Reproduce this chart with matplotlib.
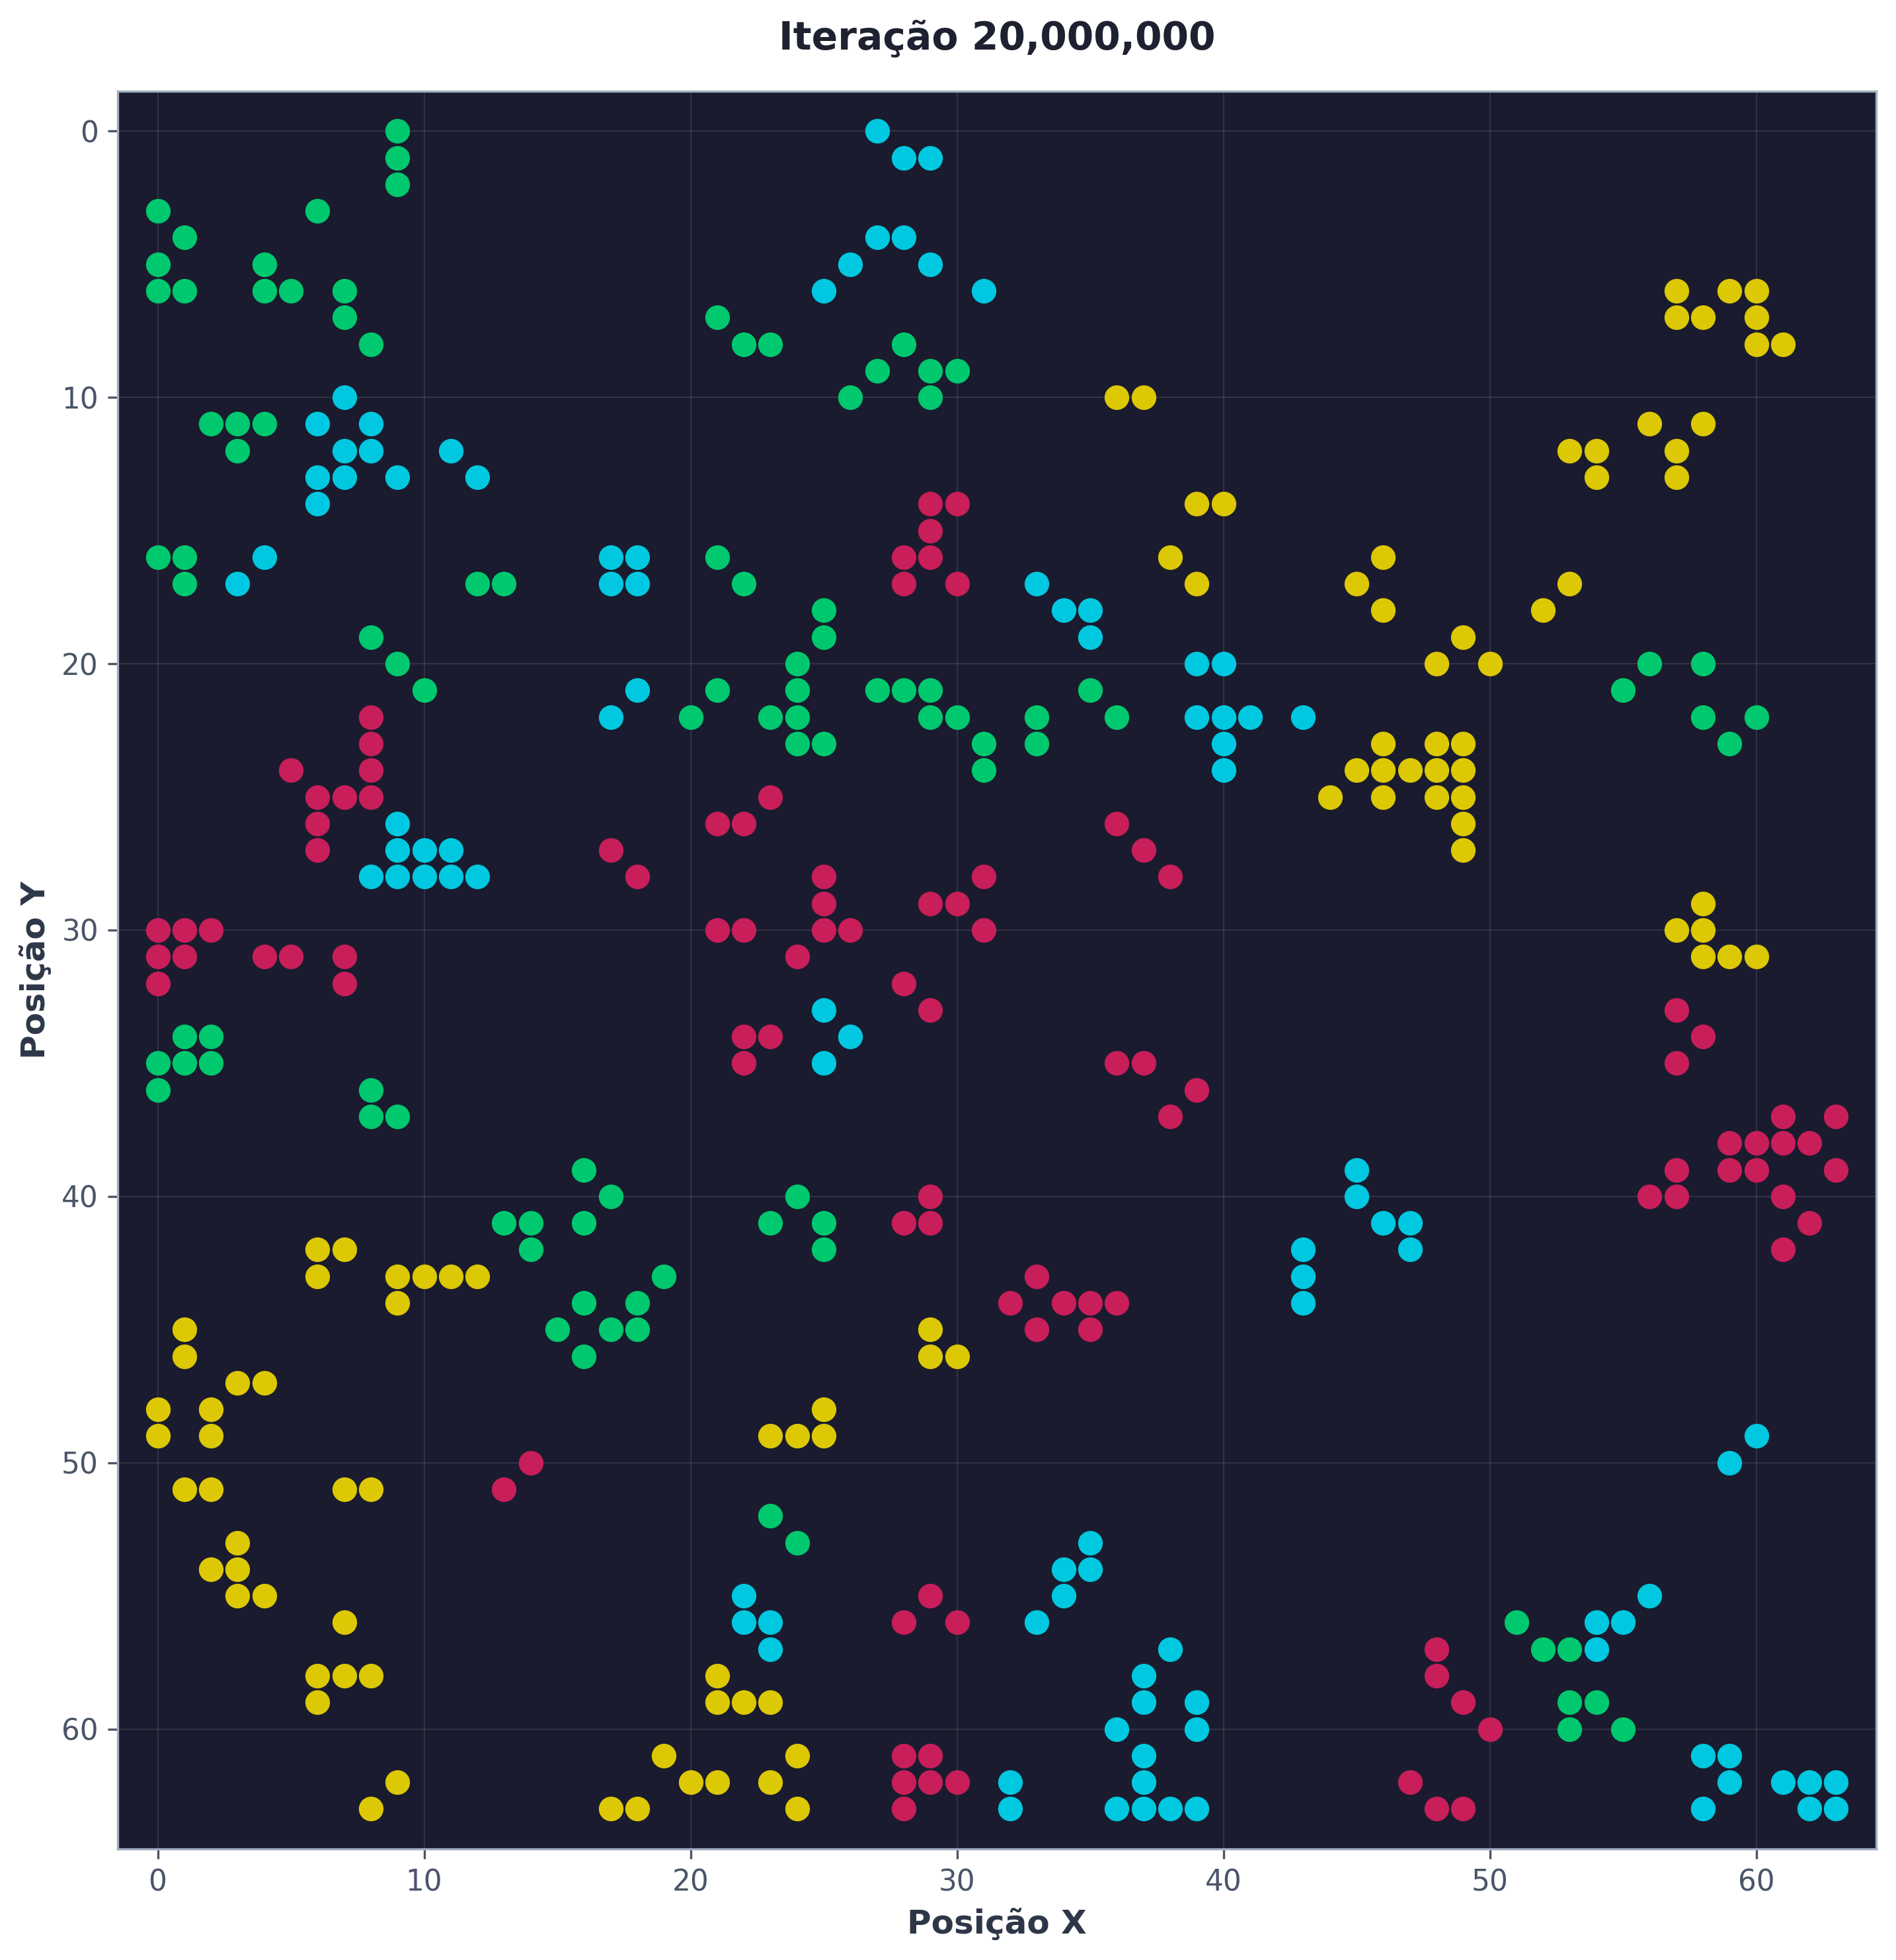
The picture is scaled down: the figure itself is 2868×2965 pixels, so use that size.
import matplotlib

matplotlib.use("Agg")

import matplotlib.pyplot as plt  # noqa: E402

# grid cells occupied by each agent type, (x, y)
green_cells = [
    (9, 0), (9, 1), (9, 2), (0, 3), (6, 3), (1, 4), (0, 5), (4, 5), (0, 6), (1, 6),
    (4, 6), (5, 6), (7, 6), (7, 7), (8, 8), (2, 11), (3, 11), (4, 11), (3, 12),
    (0, 16), (1, 16), (1, 17), (12, 17), (13, 17), (8, 19), (9, 20), (10, 21),
    (21, 7), (22, 8), (23, 8), (28, 8), (27, 9), (29, 9), (30, 9), (26, 10), (29, 10),
    (21, 16), (22, 17), (25, 18), (25, 19), (24, 20), (56, 20), (58, 20),
    (20, 22), (21, 21), (24, 21), (27, 21), (28, 21), (29, 21), (35, 21), (23, 22),
    (24, 22), (29, 22), (30, 22), (33, 22), (36, 22), (24, 23), (25, 23), (31, 23),
    (33, 23), (31, 24), (55, 21), (58, 22), (60, 22), (59, 23),
    (1, 34), (2, 34), (0, 35), (1, 35), (2, 35), (0, 36), (8, 36), (8, 37), (9, 37),
    (16, 39), (17, 40), (13, 41), (14, 41), (16, 41), (14, 42), (24, 40), (23, 41),
    (25, 41), (25, 42), (19, 43), (16, 44), (18, 44), (15, 45), (17, 45), (18, 45),
    (16, 46), (23, 52), (24, 53), (51, 56), (52, 57), (53, 57), (53, 59), (54, 59),
    (53, 60), (55, 60),
]
cyan_cells = [
    (27, 0), (28, 1), (29, 1), (27, 4), (28, 4), (26, 5), (29, 5), (25, 6), (31, 6),
    (7, 10), (6, 11), (8, 11), (7, 12), (8, 12), (11, 12), (6, 13), (7, 13), (9, 13),
    (12, 13), (6, 14), (4, 16), (3, 17), (17, 16), (18, 16), (17, 17), (18, 17),
    (18, 21), (17, 22), (33, 17), (34, 18), (35, 18), (35, 19), (39, 20), (40, 20),
    (39, 22), (40, 22), (41, 22), (40, 23), (40, 24), (43, 22),
    (9, 26), (9, 27), (10, 27), (11, 27), (8, 28), (9, 28), (10, 28), (11, 28), (12, 28),
    (25, 33), (26, 34), (25, 35), (45, 39), (45, 40), (46, 41), (47, 41), (43, 42),
    (47, 42), (43, 43), (43, 44), (60, 49), (59, 50), (22, 55), (22, 56), (23, 56),
    (23, 57), (35, 53), (34, 54), (35, 54), (34, 55), (33, 56), (38, 57), (37, 58),
    (37, 59), (39, 59), (36, 60), (39, 60), (37, 61), (37, 62), (36, 63), (37, 63),
    (38, 63), (39, 63), (32, 62), (32, 63), (56, 55), (54, 56), (55, 56), (54, 57),
    (58, 61), (59, 61), (59, 62), (61, 62), (62, 62), (63, 62), (58, 63), (62, 63),
    (63, 63),
]
red_cells = [
    (29, 14), (30, 14), (29, 15), (28, 16), (29, 16), (28, 17), (30, 17),
    (8, 22), (8, 23), (5, 24), (8, 24), (6, 25), (7, 25), (8, 25), (6, 26), (6, 27),
    (17, 27), (18, 28), (0, 30), (1, 30), (2, 30), (0, 31), (1, 31), (4, 31), (5, 31),
    (7, 31), (0, 32), (7, 32), (23, 25), (21, 26), (22, 26), (36, 26), (37, 27),
    (38, 28), (25, 28), (25, 29), (29, 29), (30, 29), (31, 28), (31, 30), (21, 30),
    (22, 30), (25, 30), (26, 30), (24, 31), (28, 32), (29, 33), (22, 34), (23, 34),
    (22, 35), (36, 35), (37, 35), (39, 36), (38, 37), (57, 33), (58, 34), (57, 35),
    (61, 37), (63, 37), (59, 38), (60, 38), (61, 38), (62, 38), (57, 39), (59, 39),
    (60, 39), (63, 39), (56, 40), (57, 40), (61, 40), (62, 41), (61, 42),
    (29, 40), (28, 41), (29, 41), (33, 43), (32, 44), (34, 44), (35, 44), (36, 44),
    (33, 45), (35, 45), (14, 50), (13, 51), (29, 55), (28, 56), (30, 56),
    (28, 61), (29, 61), (28, 62), (29, 62), (30, 62), (28, 63),
    (48, 57), (48, 58), (49, 59), (50, 60), (47, 62), (48, 63), (49, 63),
]
yellow_cells = [
    (36, 10), (37, 10), (39, 14), (40, 14), (38, 16), (39, 17),
    (57, 6), (59, 6), (60, 6), (57, 7), (58, 7), (60, 7), (60, 8), (61, 8),
    (56, 11), (58, 11), (53, 12), (54, 12), (57, 12), (54, 13), (57, 13),
    (46, 16), (45, 17), (46, 18), (53, 17), (52, 18), (49, 19), (48, 20), (50, 20),
    (46, 23), (48, 23), (49, 23), (45, 24), (46, 24), (47, 24), (48, 24), (49, 24),
    (44, 25), (46, 25), (48, 25), (49, 25), (49, 26), (49, 27),
    (58, 29), (57, 30), (58, 30), (58, 31), (59, 31), (60, 31),
    (6, 42), (7, 42), (6, 43), (9, 43), (10, 43), (11, 43), (12, 43), (9, 44),
    (1, 45), (1, 46), (3, 47), (4, 47), (0, 48), (2, 48), (0, 49), (2, 49),
    (1, 51), (2, 51), (7, 51), (8, 51), (3, 53), (2, 54), (3, 54), (3, 55), (4, 55),
    (7, 56), (6, 58), (7, 58), (8, 58), (6, 59), (19, 61), (20, 62), (9, 62), (8, 63),
    (17, 63), (18, 63), (29, 45), (29, 46), (30, 46), (25, 48), (23, 49), (24, 49),
    (25, 49), (21, 58), (21, 59), (22, 59), (23, 59), (24, 61), (21, 62), (23, 62),
    (24, 63),
]
iteration = 20_000_000
grid_size = 64

groups = [
    (green_cells, "#00c86e"),
    (cyan_cells, "#00c8e0"),
    (red_cells, "#c81e5a"),
    (yellow_cells, "#dcc805"),
]

fig = plt.figure(figsize=(2868 / 300, 2965 / 300), dpi=300)
ax = fig.add_axes([0.0621, 0.0567, 0.9274, 0.8968])
ax.set_facecolor("#1a1b2e")

for cells, color in groups:
    xs = [c[0] for c in cells]
    ys = [c[1] for c in cells]
    ax.scatter(xs, ys, s=80, color=color, linewidths=0, zorder=3)

ax.set_xlim(-1.5, grid_size + 0.5)
ax.set_ylim(grid_size + 0.5, -1.5)  # row 0 at the top
ax.set_xticks(range(0, grid_size, 10))
ax.set_yticks(range(0, grid_size, 10))
ax.grid(True, color="white", alpha=0.1, linewidth=0.5, zorder=0)
ax.tick_params(colors="#4a5568", labelsize=10.5, width=0.8)
for sp in ax.spines.values():
    sp.set_color("#a0aec0")
    sp.set_linewidth(0.8)

ax.set_xlabel("Posição X", fontsize=12, fontweight="bold", color="#2d3748", labelpad=4)
ax.set_ylabel("Posição Y", fontsize=12, fontweight="bold", color="#2d3748", labelpad=3.5)
ax.set_title(f"Iteração {iteration:,}", fontsize=14, fontweight="bold",
             color="#1e2230", pad=15)

fig.savefig("out.png", dpi=300, facecolor="white")
